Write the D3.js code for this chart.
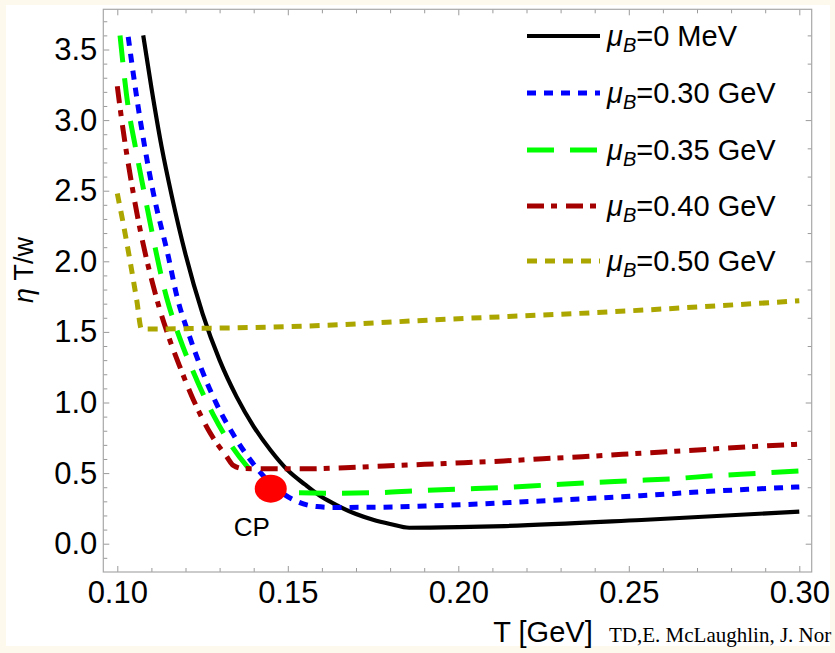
<!DOCTYPE html>
<html>
<head>
<meta charset="utf-8">
<script src="https://cdn.jsdelivr.net/npm/d3@7"></script>
<style>
  body { margin: 0; background: #fdf9ec; }
  svg { display: block; }
</style>
</head>
<body>
<svg id="chart" width="835" height="653"></svg>
<script>
// legend labels (value after mu_B=)
const muLabels = ["0 MeV", "0.30 GeV", "0.35 GeV", "0.40 GeV", "0.50 GeV"];
const xTickValues = [0.10, 0.15, 0.20, 0.25, 0.30];
const yTickValues = [0.0, 0.5, 1.0, 1.5, 2.0, 2.5, 3.0, 3.5];

// [T (GeV), eta T/w]
const mu000 = [[0.1076, 3.60], [0.1100, 3.23], [0.1130, 2.81], [0.1160, 2.46], [0.1200, 2.05],
  [0.1250, 1.63], [0.1300, 1.30], [0.1350, 1.04], [0.1400, 0.83], [0.1450, 0.66],
  [0.1500, 0.52], [0.1550, 0.42], [0.1600, 0.33], [0.1650, 0.265], [0.1700, 0.21],
  [0.1750, 0.17], [0.1800, 0.14], [0.1856, 0.113], [0.2000, 0.117], [0.2136, 0.125],
  [0.2537, 0.168], [0.300, 0.227]];
const mu030 = [[0.1032, 3.59], [0.1057, 3.16], [0.1106, 2.48], [0.1150, 2.03], [0.1174, 1.76],
  [0.1213, 1.46], [0.1243, 1.26], [0.1291, 0.99], [0.1350, 0.735], [0.1409, 0.535],
  [0.1457, 0.41], [0.1526, 0.30], [0.1585, 0.263], [0.1636, 0.257], [0.175, 0.258],
  [0.1903, 0.267], [0.2058, 0.281], [0.2218, 0.300], [0.2374, 0.319], [0.2534, 0.340],
  [0.2689, 0.364], [0.2849, 0.385], [0.300, 0.402]];
const mu035 = [[0.1008, 3.60], [0.1027, 3.18], [0.1057, 2.76], [0.1081, 2.46], [0.1145, 1.74],
  [0.1184, 1.45], [0.1233, 1.16], [0.1282, 0.91], [0.1330, 0.711], [0.1380, 0.550],
  [0.1418, 0.455], [0.1450, 0.392], [0.1497, 0.362], [0.1631, 0.358], [0.1756, 0.361],
  [0.188, 0.375], [0.2006, 0.387], [0.2131, 0.398], [0.2256, 0.415], [0.2381, 0.432],
  [0.2505, 0.446], [0.2629, 0.460], [0.2754, 0.482], [0.2877, 0.498], [0.300, 0.515]];
const mu040 = [[0.1000, 3.24], [0.1013, 3.00], [0.1047, 2.48], [0.1116, 1.73], [0.1150, 1.47],
  [0.1184, 1.25], [0.1223, 1.02], [0.1272, 0.785], [0.1321, 0.616], [0.1340, 0.555],
  [0.1370, 0.532], [0.1556, 0.530], [0.1668, 0.538], [0.1783, 0.550], [0.1901, 0.562],
  [0.2016, 0.574], [0.2133, 0.586], [0.2248, 0.602], [0.2363, 0.616], [0.2481, 0.633],
  [0.2599, 0.649], [0.2714, 0.666], [0.2829, 0.683], [0.300, 0.705]];
const mu050 = [[0.1000, 2.48], [0.1018, 2.26], [0.1057, 1.725], [0.1071, 1.52], [0.125, 1.525],
  [0.1557, 1.542], [0.1976, 1.591], [0.2396, 1.636], [0.300, 1.72]];
const criticalPoint = [0.145, 0.39];

const seriesList = [
  { data: mu000, color: "#000000", dash: null },
  { data: mu030, color: "#0000ff", dash: "9,8" },
  { data: mu035, color: "#00ff00", dash: "27,16" },
  { data: mu040, color: "#a50000", dash: "17,7,6,9" },
  { data: mu050, color: "#aca700", dash: "10,8" }
];

const svg = d3.select("#chart");
const font = "'Liberation Sans', Arial, sans-serif";

// background + white panel
svg.append("rect").attr("width", 835).attr("height", 653).attr("fill", "#fdf9ec");
svg.append("rect").attr("x", 6).attr("y", 5).attr("width", 824).attr("height", 641).attr("fill", "#ffffff");

const x = d3.scaleLinear().domain([0.10, 0.30]).range([117.3, 799.3]);
const y = d3.scaleLinear().domain([0, 3.5]).range([543.7, 49.5]);
const plotLeft = 103.3, plotRight = 811.7, plotTop = 9.3, plotBottom = 572;

svg.append("clipPath").attr("id", "plot-clip")
  .append("rect").attr("x", plotLeft).attr("y", plotTop)
  .attr("width", plotRight - plotLeft).attr("height", plotBottom - plotTop);

// ticks, inward like a Mathematica frame
const xMinor = d3.range(10, 31).map(d => d / 100);
const yMinorL = d3.range(-1, 38).map(d => d / 10);
const yMinorR = d3.range(0, 19).map(d => d / 5);
const tickColor = "#9a9a9a";

function tickAxis(axis, transform) {
  const g = svg.append("g").attr("transform", transform).call(axis);
  g.select(".domain").remove();
  g.selectAll("line").attr("stroke", tickColor);
  return g;
}
const isMajorX = d => Math.abs(d * 20 - Math.round(d * 20)) < 1e-6;
const isMajorY = d => Math.abs(d * 2 - Math.round(d * 2)) < 1e-6;
const isInt = d => Math.abs(d - Math.round(d)) < 1e-6;

tickAxis(d3.axisBottom(x).tickValues(xMinor.filter(d => !isMajorX(d))).tickSize(-4).tickFormat(""), `translate(0,${plotBottom})`);
tickAxis(d3.axisTop(x).tickValues(xMinor.filter(d => !isMajorX(d))).tickSize(-4).tickFormat(""), `translate(0,${plotTop})`);
tickAxis(d3.axisTop(x).tickValues(xTickValues).tickSize(-6).tickFormat(""), `translate(0,${plotTop})`);
tickAxis(d3.axisLeft(y).tickValues(yMinorL.filter(d => !isMajorY(d))).tickSize(-4).tickFormat(""), `translate(${plotLeft},0)`);
tickAxis(d3.axisRight(y).tickValues(yMinorR.filter(d => !isInt(d))).tickSize(-4).tickFormat(""), `translate(${plotRight},0)`);
tickAxis(d3.axisRight(y).tickValues([0, 1, 2, 3]).tickSize(-6).tickFormat(""), `translate(${plotRight},0)`);

const xAxis = tickAxis(d3.axisBottom(x).tickValues(xTickValues).tickSize(-6).tickPadding(9).tickFormat(d3.format(".2f")), `translate(0,${plotBottom})`);
const yAxis = tickAxis(d3.axisLeft(y).tickValues(yTickValues).tickSize(-6).tickPadding(6).tickFormat(d3.format(".1f")), `translate(${plotLeft},0)`);
[xAxis, yAxis].forEach(g => g.selectAll("text")
  .attr("fill", "#000").style("font-family", font).style("font-size", "31px"));

// frame
svg.append("rect").attr("x", plotLeft).attr("y", plotTop)
  .attr("width", plotRight - plotLeft).attr("height", plotBottom - plotTop)
  .attr("fill", "none").attr("stroke", "#a8a8a8").attr("stroke-width", 1.2);

// curves
const line = d3.line().x(d => x(d[0])).y(d => y(d[1])).curve(d3.curveMonotoneX);
const plot = svg.append("g").attr("clip-path", "url(#plot-clip)");
seriesList.forEach(s => {
  plot.append("path").datum(s.data)
    .attr("d", line)
    .attr("fill", "none")
    .attr("stroke", s.color)
    .attr("stroke-width", s.dash ? 5 : 4.2)
    .attr("stroke-dasharray", s.dash);
});

// critical point
plot.append("ellipse")
  .attr("cx", x(criticalPoint[0])).attr("cy", y(criticalPoint[1]))
  .attr("rx", 16).attr("ry", 14).attr("fill", "#ff0000");
svg.append("text").attr("x", x(criticalPoint[0]) - 19).attr("y", 536)
  .attr("text-anchor", "middle").style("font-family", font).style("font-size", "26px").text("CP");

// legend
const legendY = [36, 93, 150, 206, 261];
seriesList.forEach((s, i) => {
  svg.append("line").attr("x1", 527).attr("x2", 600).attr("y1", legendY[i]).attr("y2", legendY[i])
    .attr("stroke", s.color).attr("stroke-width", s.dash ? 5 : 4.2).attr("stroke-dasharray", s.dash);
  const t = svg.append("text").attr("x", 607).attr("y", legendY[i] + 10)
    .style("font-family", font).style("font-size", "29px");
  t.append("tspan").style("font-style", "italic").text("\u03bc");
  t.append("tspan").style("font-style", "italic").style("font-size", "20px").attr("dy", 6).text("B");
  t.append("tspan").attr("dy", -6).text("=" + muLabels[i]);
});

// axis titles
const yTitle = svg.append("text").attr("transform", "translate(33,270) rotate(-90)")
  .attr("text-anchor", "middle").style("font-family", font).style("font-size", "27px");
yTitle.append("tspan").style("font-style", "italic").text("\u03b7");
yTitle.append("tspan").text(" T/w");

svg.append("text").attr("x", 543).attr("y", 642).attr("text-anchor", "middle")
  .style("font-family", font).style("font-size", "29px").text("T [GeV]");
svg.append("text").attr("x", 609).attr("y", 642)
  .style("font-family", "'Liberation Serif', 'DejaVu Serif', serif").style("font-size", "21px")
  .text("TD,E. McLaughlin, J. Nor");
</script>
</body>
</html>
